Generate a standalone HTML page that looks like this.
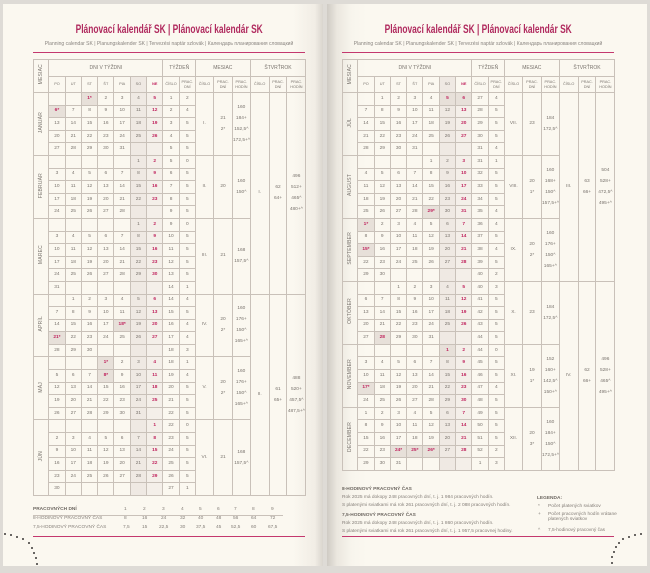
<!DOCTYPE html>
<html><head><meta charset="utf-8">
<style>
*{margin:0;padding:0;box-sizing:border-box}
html,body{width:650px;height:573px;overflow:hidden;background:#dedbd6;font-family:"Liberation Sans Narrow","Liberation Sans",sans-serif}
.page{position:absolute;top:4px;height:562px;background:#fbf8f0}
#pl{left:3px;width:320px;background:linear-gradient(to right,#fbf8f0 0,#fbf8f0 290px,#f1ede5 312px,#d9d5ce 320px)}
#pr{left:327px;width:320px;background:linear-gradient(to right,#cfcbc4 0,#ebe7df 10px,#f8f5ed 25px,#fbf8f0 40px)}
.title{position:absolute;width:272px;text-align:center;color:#b02a5e;font-weight:bold;font-size:11.5px;top:24px;white-space:nowrap}
.title span{display:inline-block;transform:scaleX(.73)}
.sub{position:absolute;width:272px;text-align:center;color:#8a8580;font-size:5px;top:41px;white-space:nowrap}
.pink{position:absolute;height:1.2px;background:#c4386e;width:272px}
table{position:absolute;top:59px;width:272px;border-collapse:collapse;table-layout:fixed;font-size:4.8px;color:#7a746e}
td,th{border:0.6px solid #c9c1b9;text-align:center;vertical-align:middle;font-weight:normal;overflow:hidden;line-height:8px}
tr{height:12.6px}
tr.h1{height:17px;font-size:5px}
tr.h2{height:16px;font-size:3.8px;line-height:5px}
tr.h2 th{line-height:5px}
td.s,th.s{background:#efe9e3}
td.n{background:#f4efe9;color:#c0245e;font-weight:bold}
th.n{color:#c0245e;font-weight:bold}
td.h{background:#e7e0d9;color:#c0245e;font-weight:bold}
th.m{font-size:5px}
th.m span{writing-mode:vertical-rl;transform:rotate(180deg);display:inline-block;letter-spacing:.2px}
td.i{line-height:11px}
.foot{position:absolute;font-size:4.8px;color:#857f79;white-space:nowrap}
.b{font-weight:bold;color:#6d6761}
.dot{position:absolute;width:2.4px;height:2.4px;border-radius:50%;background:#3a3836}
</style></head><body>
<div class="page" id="pl"></div>
<div class="page" id="pr"></div>

<div class="title" style="left:33px"><span>Plánovací kalendář SK | Plánovací kalendár SK</span></div>
<div class="sub" style="left:33px">Planning calendar SK | Planungskalender SK | Tervezési naptár szlovák | Календарь планирования словацкий</div>
<div class="pink" style="left:33px;top:52px"></div>

<div class="title" style="left:342px"><span>Plánovací kalendář SK | Plánovací kalendár SK</span></div>
<div class="sub" style="left:342px">Planning calendar SK | Planungskalender SK | Tervezési naptár szlovák | Календарь планирования словацкий</div>
<div class="pink" style="left:342px;top:52px"></div>

<table style="left:33px">
<colgroup><col style="width:15.3px"><col span="9" style="width:16.3px"><col style="width:18px"><col style="width:19px"><col style="width:17.7px"><col style="width:19px"><col style="width:17.7px"><col style="width:19px"></colgroup>
<tr class="h1"><th rowspan="2" class="m"><span>MESIAC</span></th><th colspan="7">DNI V TÝŽDNI</th><th colspan="2">TÝŽDEŇ</th><th colspan="3">MESIAC</th><th colspan="3">ŠTVRŤROK</th></tr>
<tr class="h2"><th>PO</th><th>UT</th><th>ST</th><th>ŠT</th><th>PIA</th><th class="s">SO</th><th class="n">NE</th><th>ČÍSLO</th><th>PRAC.<br>DNÍ</th><th>ČÍSLO</th><th>PRAC.<br>DNÍ</th><th>PRAC.<br>HODÍN</th><th>ČÍSLO</th><th>PRAC.<br>DNÍ</th><th>PRAC.<br>HODÍN</th></tr>
<tr><th rowspan="5" class="m"><span>JANUÁR</span></th><td></td><td></td><td class="h">1*</td><td>2</td><td>3</td><td class="s">4</td><td class="n">5</td><td>1</td><td>2</td><td rowspan="5">I.</td><td rowspan="5" class="i">21<br>2*</td><td rowspan="5" class="i">160<br>184+<br>152,5^<br>172,5+^</td><td rowspan="16">I.</td><td rowspan="16" class="i">62<br>64+</td><td rowspan="16" class="i">496<br>512+<br>465^<br>480+^</td></tr>
<tr><td class="h">6*</td><td>7</td><td>8</td><td>9</td><td>10</td><td class="s">11</td><td class="n">12</td><td>2</td><td>4</td></tr>
<tr><td>13</td><td>14</td><td>15</td><td>16</td><td>17</td><td class="s">18</td><td class="n">19</td><td>3</td><td>5</td></tr>
<tr><td>20</td><td>21</td><td>22</td><td>23</td><td>24</td><td class="s">25</td><td class="n">26</td><td>4</td><td>5</td></tr>
<tr><td>27</td><td>28</td><td>29</td><td>30</td><td>31</td><td class="s"></td><td class="n"></td><td>5</td><td>5</td></tr>
<tr><th rowspan="5" class="m"><span>FEBRUÁR</span></th><td></td><td></td><td></td><td></td><td></td><td class="s">1</td><td class="n">2</td><td>5</td><td>0</td><td rowspan="5">II.</td><td rowspan="5">20</td><td rowspan="5" class="i">160<br>150^</td></tr>
<tr><td>3</td><td>4</td><td>5</td><td>6</td><td>7</td><td class="s">8</td><td class="n">9</td><td>6</td><td>5</td></tr>
<tr><td>10</td><td>11</td><td>12</td><td>13</td><td>14</td><td class="s">15</td><td class="n">16</td><td>7</td><td>5</td></tr>
<tr><td>17</td><td>18</td><td>19</td><td>20</td><td>21</td><td class="s">22</td><td class="n">23</td><td>8</td><td>5</td></tr>
<tr><td>24</td><td>25</td><td>26</td><td>27</td><td>28</td><td class="s"></td><td class="n"></td><td>9</td><td>5</td></tr>
<tr><th rowspan="6" class="m"><span>MAREC</span></th><td></td><td></td><td></td><td></td><td></td><td class="s">1</td><td class="n">2</td><td>9</td><td>0</td><td rowspan="6">III.</td><td rowspan="6">21</td><td rowspan="6" class="i">168<br>157,5^</td></tr>
<tr><td>3</td><td>4</td><td>5</td><td>6</td><td>7</td><td class="s">8</td><td class="n">9</td><td>10</td><td>5</td></tr>
<tr><td>10</td><td>11</td><td>12</td><td>13</td><td>14</td><td class="s">15</td><td class="n">16</td><td>11</td><td>5</td></tr>
<tr><td>17</td><td>18</td><td>19</td><td>20</td><td>21</td><td class="s">22</td><td class="n">23</td><td>12</td><td>5</td></tr>
<tr><td>24</td><td>25</td><td>26</td><td>27</td><td>28</td><td class="s">29</td><td class="n">30</td><td>13</td><td>5</td></tr>
<tr><td>31</td><td></td><td></td><td></td><td></td><td class="s"></td><td class="n"></td><td>14</td><td>1</td></tr>
<tr><th rowspan="5" class="m"><span>APRÍL</span></th><td></td><td>1</td><td>2</td><td>3</td><td>4</td><td class="s">5</td><td class="n">6</td><td>14</td><td>4</td><td rowspan="5">IV.</td><td rowspan="5" class="i">20<br>2*</td><td rowspan="5" class="i">160<br>176+<br>150^<br>165+^</td><td rowspan="16">II.</td><td rowspan="16" class="i">61<br>65+</td><td rowspan="16" class="i">488<br>520+<br>457,5^<br>487,5+^</td></tr>
<tr><td>7</td><td>8</td><td>9</td><td>10</td><td>11</td><td class="s">12</td><td class="n">13</td><td>15</td><td>5</td></tr>
<tr><td>14</td><td>15</td><td>16</td><td>17</td><td class="h">18*</td><td class="s">19</td><td class="n">20</td><td>16</td><td>4</td></tr>
<tr><td class="h">21*</td><td>22</td><td>23</td><td>24</td><td>25</td><td class="s">26</td><td class="n">27</td><td>17</td><td>4</td></tr>
<tr><td>28</td><td>29</td><td>30</td><td></td><td></td><td class="s"></td><td class="n"></td><td>18</td><td>3</td></tr>
<tr><th rowspan="5" class="m"><span>MÁJ</span></th><td></td><td></td><td></td><td class="h">1*</td><td>2</td><td class="s">3</td><td class="n">4</td><td>18</td><td>1</td><td rowspan="5">V.</td><td rowspan="5" class="i">20<br>2*</td><td rowspan="5" class="i">160<br>176+<br>150^<br>165+^</td></tr>
<tr><td>5</td><td>6</td><td>7</td><td class="h">8*</td><td>9</td><td class="s">10</td><td class="n">11</td><td>19</td><td>4</td></tr>
<tr><td>12</td><td>13</td><td>14</td><td>15</td><td>16</td><td class="s">17</td><td class="n">18</td><td>20</td><td>5</td></tr>
<tr><td>19</td><td>20</td><td>21</td><td>22</td><td>23</td><td class="s">24</td><td class="n">25</td><td>21</td><td>5</td></tr>
<tr><td>26</td><td>27</td><td>28</td><td>29</td><td>30</td><td class="s">31</td><td class="n"></td><td>22</td><td>5</td></tr>
<tr><th rowspan="6" class="m"><span>JÚN</span></th><td></td><td></td><td></td><td></td><td></td><td class="s"></td><td class="n">1</td><td>22</td><td>0</td><td rowspan="6">VI.</td><td rowspan="6">21</td><td rowspan="6" class="i">168<br>157,5^</td></tr>
<tr><td>2</td><td>3</td><td>4</td><td>5</td><td>6</td><td class="s">7</td><td class="n">8</td><td>23</td><td>5</td></tr>
<tr><td>9</td><td>10</td><td>11</td><td>12</td><td>13</td><td class="s">14</td><td class="n">15</td><td>24</td><td>5</td></tr>
<tr><td>16</td><td>17</td><td>18</td><td>19</td><td>20</td><td class="s">21</td><td class="n">22</td><td>25</td><td>5</td></tr>
<tr><td>23</td><td>24</td><td>25</td><td>26</td><td>27</td><td class="s">28</td><td class="n">29</td><td>26</td><td>5</td></tr>
<tr><td>30</td><td></td><td></td><td></td><td></td><td class="s"></td><td class="n"></td><td>27</td><td>1</td></tr>
</table>

<table style="left:342px">
<colgroup><col style="width:15.3px"><col span="9" style="width:16.3px"><col style="width:18px"><col style="width:19px"><col style="width:17.7px"><col style="width:19px"><col style="width:17.7px"><col style="width:19px"></colgroup>
<tr class="h1"><th rowspan="2" class="m"><span>MESIAC</span></th><th colspan="7">DNI V TÝŽDNI</th><th colspan="2">TÝŽDEŇ</th><th colspan="3">MESIAC</th><th colspan="3">ŠTVRŤROK</th></tr>
<tr class="h2"><th>PO</th><th>UT</th><th>ST</th><th>ŠT</th><th>PIA</th><th class="s">SO</th><th class="n">NE</th><th>ČÍSLO</th><th>PRAC.<br>DNÍ</th><th>ČÍSLO</th><th>PRAC.<br>DNÍ</th><th>PRAC.<br>HODÍN</th><th>ČÍSLO</th><th>PRAC.<br>DNÍ</th><th>PRAC.<br>HODÍN</th></tr>
<tr><th rowspan="5" class="m"><span>JÚL</span></th><td></td><td>1</td><td>2</td><td>3</td><td>4</td><td class="h">5</td><td class="h">6</td><td>27</td><td>4</td><td rowspan="5">VII.</td><td rowspan="5">23</td><td rowspan="5" class="i">184<br>172,5^</td><td rowspan="15">III.</td><td rowspan="15" class="i">63<br>66+</td><td rowspan="15" class="i">504<br>528+<br>472,5^<br>495+^</td></tr>
<tr><td>7</td><td>8</td><td>9</td><td>10</td><td>11</td><td class="s">12</td><td class="n">13</td><td>28</td><td>5</td></tr>
<tr><td>14</td><td>15</td><td>16</td><td>17</td><td>18</td><td class="s">19</td><td class="n">20</td><td>29</td><td>5</td></tr>
<tr><td>21</td><td>22</td><td>23</td><td>24</td><td>25</td><td class="s">26</td><td class="n">27</td><td>30</td><td>5</td></tr>
<tr><td>28</td><td>29</td><td>30</td><td>31</td><td></td><td class="s"></td><td class="n"></td><td>31</td><td>4</td></tr>
<tr><th rowspan="5" class="m"><span>AUGUST</span></th><td></td><td></td><td></td><td></td><td>1</td><td class="s">2</td><td class="n">3</td><td>31</td><td>1</td><td rowspan="5">VIII.</td><td rowspan="5" class="i">20<br>1*</td><td rowspan="5" class="i">160<br>168+<br>150^<br>157,5+^</td></tr>
<tr><td>4</td><td>5</td><td>6</td><td>7</td><td>8</td><td class="s">9</td><td class="n">10</td><td>32</td><td>5</td></tr>
<tr><td>11</td><td>12</td><td>13</td><td>14</td><td>15</td><td class="s">16</td><td class="n">17</td><td>33</td><td>5</td></tr>
<tr><td>18</td><td>19</td><td>20</td><td>21</td><td>22</td><td class="s">23</td><td class="n">24</td><td>34</td><td>5</td></tr>
<tr><td>25</td><td>26</td><td>27</td><td>28</td><td class="h">29*</td><td class="s">30</td><td class="n">31</td><td>35</td><td>4</td></tr>
<tr><th rowspan="5" class="m"><span>SEPTEMBER</span></th><td class="h">1*</td><td>2</td><td>3</td><td>4</td><td>5</td><td class="s">6</td><td class="n">7</td><td>36</td><td>4</td><td rowspan="5">IX.</td><td rowspan="5" class="i">20<br>2*</td><td rowspan="5" class="i">160<br>176+<br>150^<br>165+^</td></tr>
<tr><td>8</td><td>9</td><td>10</td><td>11</td><td>12</td><td class="s">13</td><td class="n">14</td><td>37</td><td>5</td></tr>
<tr><td class="h">15*</td><td>16</td><td>17</td><td>18</td><td>19</td><td class="s">20</td><td class="n">21</td><td>38</td><td>4</td></tr>
<tr><td>22</td><td>23</td><td>24</td><td>25</td><td>26</td><td class="s">27</td><td class="n">28</td><td>39</td><td>5</td></tr>
<tr><td>29</td><td>30</td><td></td><td></td><td></td><td class="s"></td><td class="n"></td><td>40</td><td>2</td></tr>
<tr><th rowspan="5" class="m"><span>OKTÓBER</span></th><td></td><td></td><td>1</td><td>2</td><td>3</td><td class="s">4</td><td class="n">5</td><td>40</td><td>3</td><td rowspan="5">X.</td><td rowspan="5">23</td><td rowspan="5" class="i">184<br>172,5^</td><td rowspan="15">IV.</td><td rowspan="15" class="i">62<br>66+</td><td rowspan="15" class="i">496<br>528+<br>465^<br>495+^</td></tr>
<tr><td>6</td><td>7</td><td>8</td><td>9</td><td>10</td><td class="s">11</td><td class="n">12</td><td>41</td><td>5</td></tr>
<tr><td>13</td><td>14</td><td>15</td><td>16</td><td>17</td><td class="s">18</td><td class="n">19</td><td>42</td><td>5</td></tr>
<tr><td>20</td><td>21</td><td>22</td><td>23</td><td>24</td><td class="s">25</td><td class="n">26</td><td>43</td><td>5</td></tr>
<tr><td>27</td><td class="h">28</td><td>29</td><td>30</td><td>31</td><td class="s"></td><td class="n"></td><td>44</td><td>5</td></tr>
<tr><th rowspan="5" class="m"><span>NOVEMBER</span></th><td></td><td></td><td></td><td></td><td></td><td class="h">1</td><td class="n">2</td><td>44</td><td>0</td><td rowspan="5">XI.</td><td rowspan="5" class="i">19<br>1*</td><td rowspan="5" class="i">152<br>160+<br>142,5^<br>150+^</td></tr>
<tr><td>3</td><td>4</td><td>5</td><td>6</td><td>7</td><td class="s">8</td><td class="n">9</td><td>45</td><td>5</td></tr>
<tr><td>10</td><td>11</td><td>12</td><td>13</td><td>14</td><td class="s">15</td><td class="n">16</td><td>46</td><td>5</td></tr>
<tr><td class="h">17*</td><td>18</td><td>19</td><td>20</td><td>21</td><td class="s">22</td><td class="n">23</td><td>47</td><td>4</td></tr>
<tr><td>24</td><td>25</td><td>26</td><td>27</td><td>28</td><td class="s">29</td><td class="n">30</td><td>48</td><td>5</td></tr>
<tr><th rowspan="5" class="m"><span>DECEMBER</span></th><td>1</td><td>2</td><td>3</td><td>4</td><td>5</td><td class="s">6</td><td class="n">7</td><td>49</td><td>5</td><td rowspan="5">XII.</td><td rowspan="5" class="i">20<br>3*</td><td rowspan="5" class="i">160<br>184+<br>150^<br>172,5+^</td></tr>
<tr><td>8</td><td>9</td><td>10</td><td>11</td><td>12</td><td class="s">13</td><td class="n">14</td><td>50</td><td>5</td></tr>
<tr><td>15</td><td>16</td><td>17</td><td>18</td><td>19</td><td class="s">20</td><td class="n">21</td><td>51</td><td>5</td></tr>
<tr><td>22</td><td>23</td><td class="h">24*</td><td class="h">25*</td><td class="h">26*</td><td class="s">27</td><td class="n">28</td><td>52</td><td>2</td></tr>
<tr><td>29</td><td>30</td><td>31</td><td></td><td></td><td class="s"></td><td class="n"></td><td>1</td><td>3</td></tr>
</table>

<div class="foot b" style="left:33px;top:507px">PRACOVNÝCH DNÍ</div>
<div style="position:absolute;left:33px;top:515px;width:250px;height:.6px;background:#c9c1b9"></div>
<div class="foot" style="left:33px;top:516px">8-HODINOVÝ PRACOVNÝ ČAS</div>
<div class="foot" style="left:33px;top:525px">7,5-HODINOVÝ PRACOVNÝ ČAS</div>
<div class="foot" style="left:122px;top:507px">
<span style="position:absolute;left:2px">1</span><span style="position:absolute;left:21px">2</span><span style="position:absolute;left:40px">3</span><span style="position:absolute;left:59px">4</span><span style="position:absolute;left:77px">5</span><span style="position:absolute;left:95px">6</span><span style="position:absolute;left:112px">7</span><span style="position:absolute;left:130px">8</span><span style="position:absolute;left:149px">9</span></div>
<div class="foot" style="left:122px;top:516px">
<span style="position:absolute;left:2px">8</span><span style="position:absolute;left:20px">16</span><span style="position:absolute;left:39px">24</span><span style="position:absolute;left:58px">32</span><span style="position:absolute;left:76px">40</span><span style="position:absolute;left:94px">48</span><span style="position:absolute;left:111px">56</span><span style="position:absolute;left:129px">64</span><span style="position:absolute;left:148px">72</span></div>
<div class="foot" style="left:122px;top:525px">
<span style="position:absolute;left:1px">7,5</span><span style="position:absolute;left:20px">15</span><span style="position:absolute;left:37px">22,5</span><span style="position:absolute;left:58px">30</span><span style="position:absolute;left:74px">37,5</span><span style="position:absolute;left:94px">45</span><span style="position:absolute;left:109px">52,5</span><span style="position:absolute;left:129px">60</span><span style="position:absolute;left:146px">67,5</span></div>
<div class="pink" style="left:33px;top:536px"></div>

<div class="foot b" style="left:342px;top:487px">8-HODINOVÝ PRACOVNÝ ČAS</div>
<div class="foot" style="left:342px;top:495px">Rok 2025 má dokopy 248 pracovných dní, t. j. 1 984 pracovných hodín.</div>
<div class="foot" style="left:342px;top:503px">S platenými sviatkami má rok 261 pracovných dní, t. j. 2 088 pracovných hodín.</div>
<div class="foot b" style="left:342px;top:513px">7,5-HODINOVÝ PRACOVNÝ ČAS</div>
<div class="foot" style="left:342px;top:521px">Rok 2025 má dokopy 248 pracovných dní, t. j. 1 860 pracovných hodín.</div>
<div class="foot" style="left:342px;top:529px">S platenými sviatkami má rok 261 pracovných dní, t. j. 1 957,5 pracovnej hodiny.</div>
<div class="foot b" style="left:537px;top:496px">LEGENDA:</div>
<div class="foot" style="left:538px;top:504px">*</div><div class="foot" style="left:548px;top:504px">Počet platených sviatkov</div>
<div class="foot" style="left:538px;top:512px">+</div><div class="foot" style="left:548px;top:512px">Počet pracovných hodín vrátane<br>platených sviatkov</div>
<div class="foot" style="left:538px;top:528px">^</div><div class="foot" style="left:548px;top:528px">7,5-hodinový pracovný čas</div>
<div class="pink" style="left:342px;top:536px"></div>

<div class="dot" style="left:4px;top:533px"></div><div class="dot" style="left:10px;top:534px"></div><div class="dot" style="left:16px;top:536px"></div><div class="dot" style="left:22px;top:538px"></div><div class="dot" style="left:28px;top:542px"></div><div class="dot" style="left:31px;top:547px"></div><div class="dot" style="left:33px;top:552px"></div><div class="dot" style="left:35px;top:557px"></div><div class="dot" style="left:36px;top:563px"></div>
<div class="dot" style="left:640px;top:533px"></div><div class="dot" style="left:634px;top:534px"></div><div class="dot" style="left:628px;top:536px"></div><div class="dot" style="left:622px;top:538px"></div><div class="dot" style="left:618px;top:542px"></div><div class="dot" style="left:615px;top:546px"></div><div class="dot" style="left:613px;top:551px"></div><div class="dot" style="left:611px;top:556px"></div><div class="dot" style="left:611px;top:562px"></div>
</body></html>
